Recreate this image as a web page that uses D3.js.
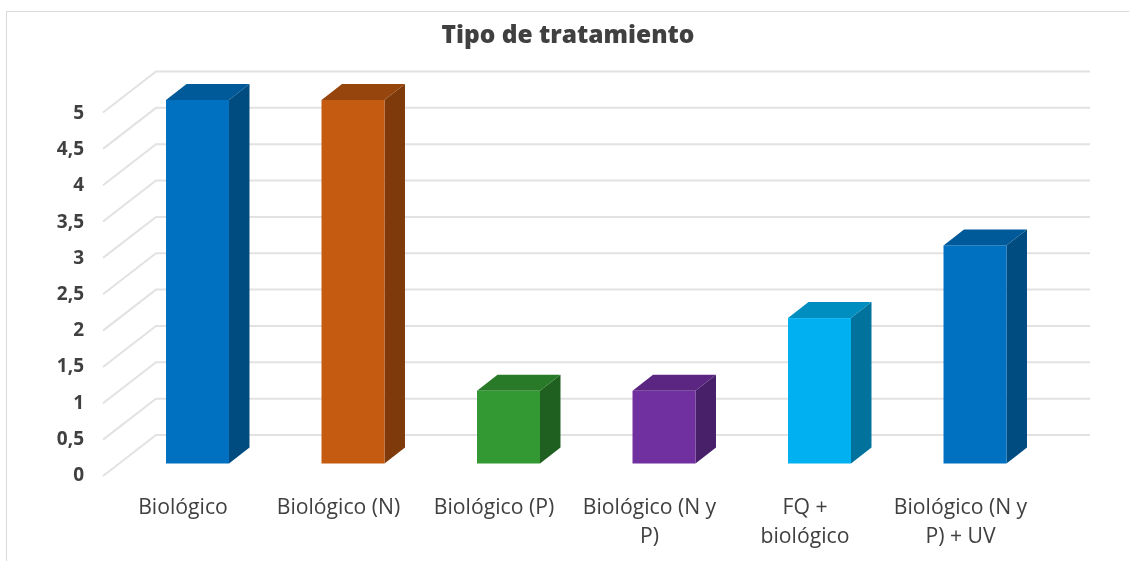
<!DOCTYPE html>
<html><head><meta charset="utf-8">
<script src="https://cdn.jsdelivr.net/npm/d3@7/dist/d3.min.js"></script>
<style>html,body{margin:0;background:#fff;overflow:hidden}svg{display:block;filter:blur(0.45px)}text{font-family:"Open Sans",sans-serif;fill:#404040}</style>
</head><body><svg id="c" width="1129" height="561"></svg>
<script>
const title = "Tipo de tratamiento";
const categories = ["Biológico","Biológico (N)","Biológico (P)","Biológico (N y P)","FQ + biológico","Biológico (N y P) + UV"];
const labelLines = [["Biológico"],["Biológico (N)"],["Biológico (P)"],["Biológico (N y","P)"],["FQ +","biológico"],["Biológico (N y","P) + UV"]];
const values = [5,5,1,1,2,3];
const frontColors = ["#0070c0","#c55a11","#339933","#7030a0","#00b0f0","#0070c0"];
const sideColors = ["#004b80","#7f3a0b","#1f5f1f","#481f69","#00729c","#004b80"];
const topColors = ["#005a9a","#96450d","#287a28","#5a2682","#008dc0","#005a9a"];
const yTicks = [0,0.5,1,1.5,2,2.5,3,3.5,4,4.5,5];

const svg = d3.select("#c");
const x = d3.scaleBand().domain(categories).range([119.75,1052.75]).paddingInner(0.595).paddingOuter(0.2975);
const y = d3.scaleLinear().domain([0,5]).range([463.5,100]);
const yLabel = d3.scaleLinear().domain([0,5]).range([481,119]);
const wall = {dx:53, dy:-41};
const depth = {dx:20.5, dy:-16};
const floorX = 103, wallRight = 1090;
const fmt = v => String(v).replace(".",",");

svg.append("rect").attr("x",6.5).attr("y",11.5).attr("width",1140).attr("height",570).attr("fill","#fff").attr("stroke","#d9d9d9").attr("stroke-width",1);
svg.append("text").attr("x",568).attr("y",43).attr("text-anchor","middle").style("font-size","24.5px").style("font-weight",800).text(title);

const yFloor = v => y(v)+12.5;
const g = svg.append("g");
yTicks.forEach(v=>{
  const y0 = yFloor(v);
  g.append("path").attr("d",d3.line()([[floorX,y0],[floorX+wall.dx,y0+wall.dy],[wallRight,y0+wall.dy]]))
    .attr("fill","none").attr("stroke","#e2e2e2").attr("stroke-width",2);
  svg.append("text").attr("x",84).attr("y",yLabel(v)).attr("text-anchor","end").style("font-size","19px").style("font-weight",700).text(fmt(v));
});

categories.forEach((c,i)=>{
  const x0=x(c), x1=x0+x.bandwidth(), yt=y(values[i]), yb=y(0), d=depth;
  const line=d3.line();
  svg.append("path").attr("d",line([[x1,yt],[x1+d.dx,yt+d.dy],[x1+d.dx,yb+d.dy],[x1,yb]])+"Z").attr("fill",sideColors[i]);
  svg.append("path").attr("d",line([[x0,yt],[x0+d.dx,yt+d.dy],[x1+d.dx,yt+d.dy],[x1,yt]])+"Z").attr("fill",topColors[i]);
  svg.append("rect").attr("x",x0).attr("y",yt).attr("width",x.bandwidth()).attr("height",yb-yt).attr("fill",frontColors[i]);
  const t=svg.append("text").attr("text-anchor","middle").style("font-size","21.2px").style("font-weight",500);
  labelLines[i].forEach((l,k)=>t.append("tspan").attr("x",x0+x.bandwidth()/2-14.5).attr("y",514+k*29).text(l));
});
</script></body></html>
